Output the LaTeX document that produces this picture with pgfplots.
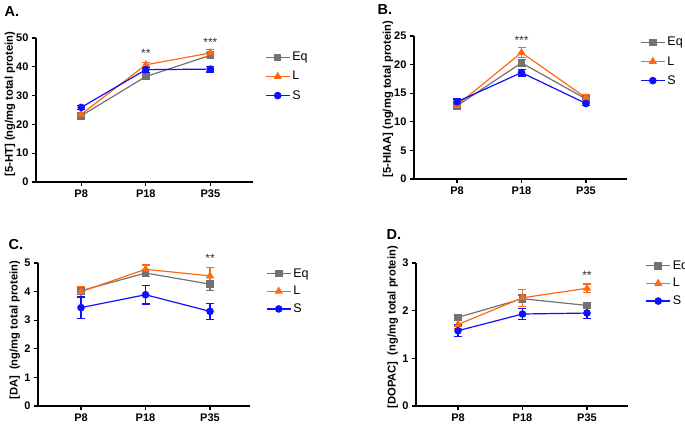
\documentclass[border=0pt]{standalone}
\usepackage{fontspec}
\setmainfont{Liberation Sans}
\usepackage{pgfplots}
\pgfplotsset{compat=1.18}
\definecolor{eqgray}{HTML}{727272}
\definecolor{lorange}{HTML}{FF6A10}
\definecolor{sblue}{HTML}{1010FF}
\tikzset{starlbl/.style={font=\fontsize{12}{13}\selectfont, text=black!80}}
\pgfplotsset{
  panel/.style={
    scale only axis, clip=false,
    axis x line*=bottom, axis y line*=left,
    axis line style={line width=1.4pt, black},
    tick style={black, line width=1.2pt},
    major tick length=4pt, tick align=outside,
    xtick={1,2,3}, xticklabels={P8,P18,P35},
    ticklabel style={font=\bfseries\fontsize{11}{13}\selectfont},
    /pgf/number format/assume math mode=true,
    ylabel style={font=\bfseries\fontsize{11.2}{13}\selectfont, anchor=center},
    legend style={draw=none, fill=none, font=\fontsize{12.5}{15}\selectfont,
      legend cell align=left, row sep=5pt, anchor=north west},
    legend image code/.code={\draw[mark repeat=2,mark phase=2] plot coordinates {(0pt,0pt) (12pt,0pt) (24pt,0pt)};},
  },
  ser/.style={line width=1.2pt, mark size=3.2pt, mark options={solid},
    error bars/y dir=both, error bars/y explicit,
    error bars/error bar style={line width=1.2pt, color=#1},
    error bars/error mark options={rotate=90, mark size=4pt, line width=1.2pt, color=#1},
    color=#1},
  eq/.style={ser=eqgray, mark=square*},
  ll/.style={ser=lorange, mark=triangle*, mark size=3.6pt},
  ss/.style={ser=sblue, mark=*},
}
\begin{document}
\begin{tikzpicture}
\useasboundingbox (0pt,0pt) rectangle (685pt,426pt);
% Panel A
\begin{axis}[panel, at={(36pt,244pt)}, anchor=south west, width=217pt, height=144pt,
  xmin=0.30, xmax=3.66, ymin=0, ymax=50, ytick={0,10,20,30,40,50},
  ylabel={[5-HT] (ng/mg total protein)}, ylabel style={at={(axis description cs:-0.12,0.54)}},
  legend style={at={(axis description cs:1.041,0.93)}}]
\addplot[eq] coordinates {(1,23.0) +- (0,0.6) (2,36.6) +- (0,0.8) (3,44.0) +- (0,0.8)};
\addplot[ll] coordinates {(1,23.5) +- (0,0.6) (2,40.7) +- (0,0.9) (3,44.8) +- (0,1.1)};
\addplot[ss] coordinates {(1,25.9) +- (0,0.8) (2,39.0) +- (0,0.9) (3,39.2) +- (0,1.0)};
\legend{Eq,L,S}
\node[starlbl] at (axis cs:2,44.8) {**};
\node[starlbl] at (axis cs:3,48.6) {***};
\end{axis}
% Panel B
\begin{axis}[panel, at={(414pt,247pt)}, anchor=south west, width=213pt, height=143pt,
  xmin=0.333, xmax=3.636, ymin=0, ymax=25, ytick={0,5,10,15,20,25},
  ylabel={[5-HIAA] (ng/mg total protein)}, ylabel style={at={(axis description cs:-0.122,0.56)}},
  legend style={at={(axis description cs:1.047,1.02)}}]
\addplot[eq] coordinates {(1,12.8) +- (0,0.5) (2,20.3) +- (0,0.6) (3,14.0) +- (0,0.5)};
\addplot[ll] coordinates {(1,12.9) +- (0,0.5) (2,22.1) +- (0,0.9) (3,14.2) +- (0,0.5)};
\addplot[ss] coordinates {(1,13.5) +- (0,0.5) (2,18.6) +- (0,0.6) (3,13.2) +- (0,0.3)};
\legend{Eq,L,S}
\node[starlbl] at (axis cs:2,24.3) {***};
\end{axis}
% Panel C
\begin{axis}[panel, at={(38pt,20pt)}, anchor=south west, width=212pt, height=143pt,
  xmin=0.333, xmax=3.62, ymin=0, ymax=5, ytick={0,1,2,3,4,5},
  ylabel={[DA]\ \ (ng/mg total protein)}, ylabel style={at={(axis description cs:-0.11,0.53)}},
  legend style={at={(axis description cs:1.061,0.99)}, row sep=3.5pt}]
\addplot[eq] coordinates {(1,4.03) +- (0,0.12) (2,4.65) +- (0,0.12) (3,4.26) +- (0,0.22)};
\addplot[ll] coordinates {(1,4.00) +- (0,0.18) (2,4.78) +- (0,0.15) (3,4.55) +- (0,0.28)};
\addplot[ss] coordinates {(1,3.44) +- (0,0.37) (2,3.89) +- (0,0.32) (3,3.31) +- (0,0.28)};
\legend{Eq,L,S}
\node[starlbl] at (axis cs:3,5.15) {**};
\end{axis}
% Panel D
\begin{axis}[panel, at={(416pt,20pt)}, anchor=south west, width=212pt, height=143pt,
  xmin=0.349, xmax=3.636, ymin=0, ymax=3, ytick={0,1,2,3},
  ylabel={[DOPAC]\ \ (ng/mg total protein)}, ylabel style={at={(axis description cs:-0.11,0.55)}},
  legend style={at={(axis description cs:1.068,1.045)}, row sep=3.5pt}]
\addplot[eq] coordinates {(1,1.86) +- (0,0.04) (2,2.25) +- (0,0.08) (3,2.11) +- (0,0.06)};
\addplot[ll] coordinates {(1,1.71) +- (0,0.08) (2,2.27) +- (0,0.18) (3,2.47) +- (0,0.09)};
\addplot[ss] coordinates {(1,1.58) +- (0,0.12) (2,1.93) +- (0,0.12) (3,1.95) +- (0,0.12)};
\legend{Eq,L,S}
\node[starlbl] at (axis cs:3,2.74) {**};
\end{axis}
\node[font=\bfseries\fontsize{14.5}{17}\selectfont, anchor=west] at (1pt,414pt) {A.};
\node[font=\bfseries\fontsize{14.5}{17}\selectfont, anchor=west] at (374pt,416pt) {B.};
\node[font=\bfseries\fontsize{14.5}{17}\selectfont, anchor=west] at (5pt,181pt) {C.};
\node[font=\bfseries\fontsize{14.5}{17}\selectfont, anchor=west] at (383pt,191pt) {D.};
\end{tikzpicture}
\end{document}
